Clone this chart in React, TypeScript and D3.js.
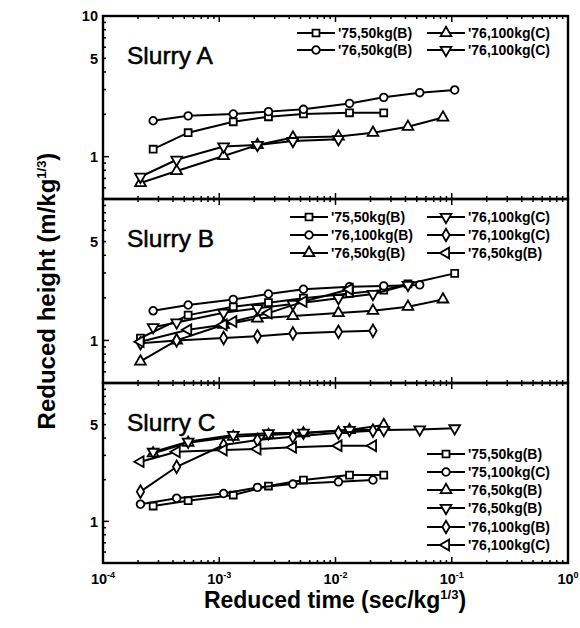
import * as d3 from "d3";

// ---- data (reduced time t in sec/kg^1/3, reduced height h in m/kg^1/3) ----

// Slurry A
const a75_50B_t = [2.7e-4, 5.4e-4, 1.32e-3, 2.65e-3, 5.3e-3, 1.32e-2, 2.6e-2];
const a75_50B_h = [1.13, 1.48, 1.77, 1.92, 2.01, 2.05, 2.05];
const a76_50B_t = [2.7e-4, 5.4e-4, 1.32e-3, 2.65e-3, 5.3e-3, 1.32e-2, 2.6e-2, 5.3e-2, 0.106];
const a76_50B_h = [1.8, 1.95, 2.01, 2.09, 2.17, 2.39, 2.64, 2.85, 2.98];
const a76_100C_up_t = [2.1e-4, 4.3e-4, 1.09e-3, 2.13e-3, 4.3e-3, 1.06e-2, 2.1e-2, 4.2e-2, 8.4e-2];
const a76_100C_up_h = [0.65, 0.79, 1.01, 1.21, 1.37, 1.39, 1.48, 1.63, 1.9];
const a76_100C_dn_t = [2.1e-4, 4.3e-4, 1.09e-3, 2.13e-3, 4.3e-3, 1.06e-2];
const a76_100C_dn_h = [0.72, 0.95, 1.18, 1.21, 1.29, 1.33];

// Slurry B
const b75_50B_t = [2.1e-4, 5.4e-4, 1.32e-3, 2.65e-3, 5.3e-3, 1.32e-2, 2.6e-2, 4.2e-2, 0.106];
const b75_50B_h = [1.04, 1.51, 1.73, 1.85, 1.99, 2.15, 2.27, 2.51, 2.98];
const b76_100B_t = [2.7e-4, 5.4e-4, 1.32e-3, 2.65e-3, 5.3e-3, 1.32e-2, 2.6e-2, 5.3e-2];
const b76_100B_h = [1.62, 1.78, 1.95, 2.13, 2.3, 2.4, 2.43, 2.47];
const b76_50B_up_t = [2.1e-4, 4.3e-4, 1.09e-3, 2.13e-3, 4.3e-3, 1.06e-2, 2.1e-2, 4.2e-2, 8.4e-2];
const b76_50B_up_h = [0.71, 1.0, 1.29, 1.43, 1.49, 1.56, 1.62, 1.73, 1.95];
const b76_100C_dn_t = [2.7e-4, 4.3e-4, 1.09e-3, 2.13e-3, 4.3e-3, 1.06e-2, 2.1e-2, 4.2e-2];
const b76_100C_dn_h = [1.24, 1.34, 1.57, 1.69, 1.81, 1.99, 2.13, 2.47];
const b76_100C_dia_t = [2.1e-4, 4.3e-4, 1.09e-3, 2.13e-3, 4.3e-3, 1.06e-2, 2.1e-2];
const b76_100C_dia_h = [0.955, 1.0, 1.04, 1.07, 1.12, 1.15, 1.17];
const b76_50B_left_t = [2.1e-4, 5.4e-4, 1.09e-3, 1.32e-3, 2.65e-3, 5.3e-3, 1.32e-2];
const b76_50B_left_h = [0.98, 1.19, 1.29, 1.36, 1.56, 1.88, 2.3];

// Slurry C
const c75_50B_t = [2.7e-4, 5.4e-4, 1.32e-3, 2.65e-3, 5.3e-3, 1.32e-2, 2.6e-2];
const c75_50B_h = [1.29, 1.41, 1.55, 1.8, 1.99, 2.16, 2.16];
const c75_100C_t = [2.1e-4, 4.3e-4, 1.09e-3, 2.13e-3, 4.3e-3, 1.06e-2, 2.1e-2];
const c75_100C_h = [1.33, 1.47, 1.59, 1.76, 1.86, 1.93, 1.99];
const c76_50B_up_t = [2.7e-4, 5.4e-4, 1.32e-3, 2.65e-3, 5.3e-3, 1.32e-2, 2.6e-2];
const c76_50B_up_h = [3.1, 3.7, 4.09, 4.21, 4.33, 4.57, 4.97];
const c76_50B_dn_t = [2.7e-4, 5.4e-4, 1.32e-3, 2.65e-3, 5.3e-3, 1.32e-2, 2.6e-2, 5.3e-2, 0.106];
const c76_50B_dn_h = [3.18, 3.76, 4.21, 4.33, 4.37, 4.57, 4.57, 4.62, 4.7];
const c76_100B_t = [2.1e-4, 4.3e-4, 1.09e-3, 2.13e-3, 4.3e-3, 1.06e-2, 2.1e-2];
const c76_100B_h = [1.64, 2.48, 3.56, 3.87, 4.09, 4.37, 4.52];
const c76_100C_t = [2.1e-4, 4.3e-4, 1.09e-3, 2.13e-3, 4.3e-3, 1.06e-2, 2.1e-2];
const c76_100C_h = [2.7, 3.18, 3.28, 3.33, 3.43, 3.52, 3.52];

const xTickValues = [1e-4, 1e-3, 1e-2, 1e-1, 1];
const xTickExponents = ["-4", "-3", "-2", "-1", "0"];
const slurryNames = ["Slurry A", "Slurry B", "Slurry C"];

type Sym = "square" | "circle" | "up" | "down" | "diamond" | "left";

const zip = (t: number[], h: number[]) => t.map((v, i) => ({ t: v, h: h[i] }));

const panels = [
  {
    name: slurryNames[0],
    yLabels: [10, 5, 1],
    legendCols: [297, 427],
    legendRows: [33, 50],
    series: [
      { label: "'75,50kg(B)", sym: "square" as Sym, data: zip(a75_50B_t, a75_50B_h), col: 0, row: 0 },
      { label: "'76,50kg(B)", sym: "circle" as Sym, data: zip(a76_50B_t, a76_50B_h), col: 0, row: 1 },
      { label: "'76,100kg(C)", sym: "up" as Sym, data: zip(a76_100C_up_t, a76_100C_up_h), col: 1, row: 0 },
      { label: "'76,100kg(C)", sym: "down" as Sym, data: zip(a76_100C_dn_t, a76_100C_dn_h), col: 1, row: 1 },
    ],
  },
  {
    name: slurryNames[1],
    yLabels: [5, 1],
    legendCols: [290, 427],
    legendRows: [217, 235, 253],
    series: [
      { label: "'75,50kg(B)", sym: "square" as Sym, data: zip(b75_50B_t, b75_50B_h), col: 0, row: 0 },
      { label: "'76,100kg(B)", sym: "circle" as Sym, data: zip(b76_100B_t, b76_100B_h), col: 0, row: 1 },
      { label: "'76,50kg(B)", sym: "up" as Sym, data: zip(b76_50B_up_t, b76_50B_up_h), col: 0, row: 2 },
      { label: "'76,100kg(C)", sym: "down" as Sym, data: zip(b76_100C_dn_t, b76_100C_dn_h), col: 1, row: 0 },
      { label: "'76,100kg(C)", sym: "diamond" as Sym, data: zip(b76_100C_dia_t, b76_100C_dia_h), col: 1, row: 1 },
      { label: "'76,50kg(B)", sym: "left" as Sym, data: zip(b76_50B_left_t, b76_50B_left_h), col: 1, row: 2 },
    ],
  },
  {
    name: slurryNames[2],
    yLabels: [5, 1],
    legendCols: [427],
    legendRows: [454, 472, 490, 508, 527, 545],
    series: [
      { label: "'75,50kg(B)", sym: "square" as Sym, data: zip(c75_50B_t, c75_50B_h), col: 0, row: 0 },
      { label: "'75,100kg(C)", sym: "circle" as Sym, data: zip(c75_100C_t, c75_100C_h), col: 0, row: 1 },
      { label: "'76,50kg(B)", sym: "up" as Sym, data: zip(c76_50B_up_t, c76_50B_up_h), col: 0, row: 2 },
      { label: "'76,50kg(B)", sym: "down" as Sym, data: zip(c76_50B_dn_t, c76_50B_dn_h), col: 0, row: 3 },
      { label: "'76,100kg(B)", sym: "diamond" as Sym, data: zip(c76_100B_t, c76_100B_h), col: 0, row: 4 },
      { label: "'76,100kg(C)", sym: "left" as Sym, data: zip(c76_100C_t, c76_100C_h), col: 0, row: 5 },
    ],
  },
];

const left = 103;
const right = 568;
const panelEdges = [16, 199, 383, 563];
const font = "'Liberation Sans', Arial, sans-serif";

function symbolPath(sym: Sym) {
  if (sym === "square") return d3.symbol(d3.symbolSquare, 48)();
  if (sym === "circle") return d3.symbol(d3.symbolCircle, 46)();
  if (sym === "diamond") return d3.symbol(d3.symbolDiamond, 46)();
  return d3.symbol(d3.symbolTriangle, 50)();
}
function symbolRotate(sym: Sym) {
  if (sym === "down") return " rotate(180)";
  if (sym === "left") return " rotate(-90)";
  return "";
}

function Marker({ x, y, sym }: { x: number; y: number; sym: Sym }) {
  return (
    <path
      d={symbolPath(sym) || ""}
      transform={`translate(${x},${y})${symbolRotate(sym)}`}
      fill="#fff"
      stroke="#000"
      strokeWidth={1.8}
    />
  );
}

export default function App() {
  const x = d3.scaleLog().domain([1e-4, 1]).range([left, right]);
  const xTicks = x.ticks();

  return (
    <svg
      width={580}
      height={628}
      style={{ position: "absolute", left: 0, top: 0, background: "#fff" }}
      fontFamily={font}
    >
      {panels.map((p, pi) => {
        const top = panelEdges[pi];
        const bottom = panelEdges[pi + 1];
        const y = d3.scaleLog().domain([0.5, 10]).range([bottom, top]);
        const yTicks = y.ticks();
        const line = d3
          .line<{ t: number; h: number }>()
          .x((d) => x(d.t))
          .y((d) => y(d.h));
        const isMajor = (v: number) => Math.abs(Math.log10(v) - Math.round(Math.log10(v))) < 1e-6;
        return (
          <g key={p.name}>
            {/* ticks, inward on top, bottom and left */}
            {xTicks.map((v, i) => {
              const len = isMajor(v) ? 6 : 3;
              return (
                <g key={"xt" + i} stroke="#000" strokeWidth={1.5}>
                  <line x1={x(v)} x2={x(v)} y1={bottom} y2={bottom - len} />
                  <line x1={x(v)} x2={x(v)} y1={top} y2={top + len} />
                </g>
              );
            })}
            {yTicks.map((v, i) => {
              const len = isMajor(v) ? 6 : 3;
              return (
                <line
                  key={"yt" + i}
                  x1={left}
                  x2={left + len}
                  y1={y(v)}
                  y2={y(v)}
                  stroke="#000"
                  strokeWidth={1.5}
                />
              );
            })}
            <rect
              x={left}
              y={top}
              width={right - left}
              height={bottom - top}
              fill="none"
              stroke="#000"
              strokeWidth={2.4}
            />
            {p.yLabels.map((v) => (
              <text
                key={"yl" + v}
                x={left - 5}
                y={y(v)}
                dy="0.36em"
                textAnchor="end"
                fontSize={14.5}
                fontWeight="bold"
              >
                {v}
              </text>
            ))}
            <text x={127} y={top + 48} fontSize={24.5} stroke="#000" strokeWidth={0.5}>
              {p.name}
            </text>

            {/* series */}
            {p.series.map((s, si) => (
              <g key={"s" + si}>
                <path d={line(s.data) || ""} fill="none" stroke="#000" strokeWidth={2} />
                {s.data.map((d, di) => (
                  <Marker key={di} x={x(d.t)} y={y(d.h)} sym={s.sym} />
                ))}
              </g>
            ))}

            {/* legend */}
            {p.series.map((s, si) => {
              const lx = p.legendCols[s.col];
              const ly = p.legendRows[s.row];
              return (
                <g key={"lg" + si}>
                  <line x1={lx} x2={lx + 38} y1={ly} y2={ly} stroke="#000" strokeWidth={2} />
                  <Marker x={lx + 19} y={ly} sym={s.sym} />
                  <text x={lx + 41} y={ly} dy="0.36em" fontSize={14} fontWeight="bold">
                    {s.label}
                  </text>
                </g>
              );
            })}
          </g>
        );
      })}

      {/* x tick labels */}
      {xTickValues.map((v, i) => (
        <text
          key={"xl" + i}
          x={x(v)}
          y={584}
          textAnchor="middle"
          fontSize={14.5}
          fontWeight="bold"
        >
          10
          <tspan dy={-6} fontSize={9}>
            {xTickExponents[i]}
          </tspan>
        </text>
      ))}

      {/* axis titles */}
      <text x={335} y={608} textAnchor="middle" fontSize={23} fontWeight="bold">
        Reduced time (sec/kg
        <tspan dy={-9} fontSize={13}>
          1/3
        </tspan>
        <tspan dy={9}>)</tspan>
      </text>
      <text
        transform="translate(55,291) rotate(-90)"
        textAnchor="middle"
        fontSize={24}
        fontWeight="bold"
      >
        Reduced height (m/kg
        <tspan dy={-9} fontSize={13}>
          1/3
        </tspan>
        <tspan dy={9}>)</tspan>
      </text>
    </svg>
  );
}
